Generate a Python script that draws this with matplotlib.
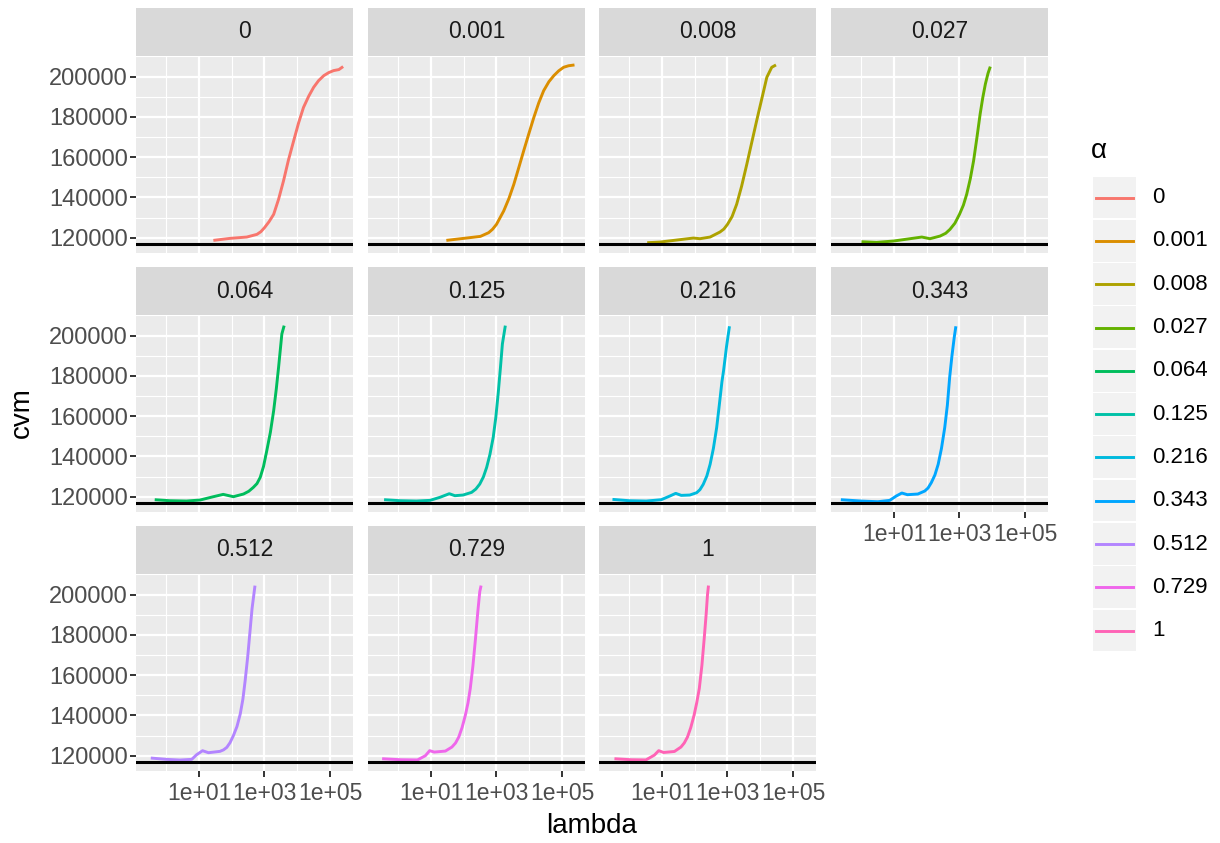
import numpy as np
import matplotlib
matplotlib.use("Agg")
import matplotlib.pyplot as plt
from matplotlib.patches import Rectangle
from matplotlib.lines import Line2D
from matplotlib.ticker import FixedLocator, NullFormatter, FixedFormatter

plt.rcParams['font.family'] = ['Liberation Sans', 'DejaVu Sans']

# facet levels (alpha) and ggplot hue colours
alphas = ["0", "0.001", "0.008", "0.027", "0.064", "0.125",
          "0.216", "0.343", "0.512", "0.729", "1"]
colors = ["#F8766D", "#DB8E00", "#AEA200", "#64B200", "#00BD5C", "#00C1A7",
          "#00BADE", "#00A6FF", "#B385FF", "#EF67EB", "#FF63B6"]

# log10(lambda) and cvm
loglam_0 = [1.44, 1.95, 2.46, 2.77, 2.89, 3.0, 3.14, 3.28, 3.43, 3.58, 3.73, 3.89,
            4.04, 4.19, 4.35, 4.5, 4.65, 4.81, 4.96, 5.11, 5.27, 5.4]
cvm_0 = [118670, 119670, 120330, 121660, 122990, 124980, 127970, 131600, 139100,
         148200, 158500, 168100, 177000, 184700, 190300, 194700, 198000, 200500,
         202000, 203000, 203500, 205000]

loglam_001 = [1.47, 2.0, 2.51, 2.76, 2.88, 3.0, 3.22, 3.38, 3.53, 3.68, 3.83, 3.99,
              4.14, 4.29, 4.44, 4.6, 4.75, 4.9, 5.05, 5.2, 5.38]
cvm_001 = [118670, 119670, 120660, 122490, 124200, 126640, 133280, 139500, 146560,
           154800, 163150, 171800, 179750, 187000, 193030, 197500, 200500, 202900,
           204650, 205400, 205800]

loglam_008 = [0.55, 0.94, 1.45, 1.96, 2.16, 2.47, 2.77, 2.89, 3.0, 3.14, 3.28, 3.43,
              3.59, 3.74, 3.89, 4.05, 4.2, 4.35, 4.48]
cvm_008 = [117510, 117840, 118840, 119830, 119500, 120330, 122820, 124300, 126640,
           130500, 136600, 145500, 156510, 167300, 178090, 189200, 199660, 204640,
           205800]

loglam_027 = [0.01, 0.47, 0.98, 1.49, 1.85, 2.10, 2.41, 2.58, 2.71, 2.86, 3.0, 3.12,
              3.22, 3.33, 3.43, 3.53, 3.63, 3.71, 3.79, 3.87, 3.94]
cvm_027 = [118010, 117680, 118340, 119500, 120330, 119500, 120830, 122200, 124150,
           127200, 131620, 136200, 141580, 149300, 158170, 169500, 181400, 189500,
           196350, 201600, 204980]

loglam_064 = [-0.35, 0.11, 0.62, 1.03, 1.44, 1.74, 2.05, 2.36, 2.52, 2.66, 2.77, 2.87,
              2.97, 3.07, 3.18, 3.28, 3.36, 3.43, 3.53, 3.6]
cvm_064 = [118510, 118010, 117850, 118340, 120000, 121160, 120000, 121330, 122700,
           124640, 126500, 129610, 135000, 142860, 152000, 162730, 173500, 184260,
           200830, 204970]

loglam_125 = [-0.43, 0.06, 0.56, 0.97, 1.27, 1.56, 1.73, 1.98, 2.24, 2.37, 2.49, 2.60,
              2.70, 2.80, 2.90, 2.98, 3.05, 3.12, 3.18, 3.27]
cvm_125 = [118510, 118010, 117850, 118180, 119670, 121490, 120500, 120830, 122150,
           123800, 126290, 129800, 134570, 141000, 149480, 159500, 171010, 184000,
           195860, 204970]

loglam_216 = [-0.51, 0.0, 0.52, 0.98, 1.24, 1.42, 1.59, 1.85, 2.06, 2.16, 2.26, 2.37,
              2.47, 2.57, 2.67, 2.75, 2.83, 2.88, 2.97, 3.06]
cvm_216 = [118670, 118010, 117840, 118510, 120330, 121660, 120660, 120830, 121990,
           123500, 126140, 130300, 136100, 144000, 154360, 165500, 177000, 182570,
           194500, 204650]

loglam_343 = [-0.62, 0.0, 0.51, 0.87, 1.07, 1.24, 1.41, 1.73, 1.94, 2.04, 2.14, 2.25,
              2.35, 2.45, 2.55, 2.63, 2.70, 2.77, 2.84, 2.89]
cvm_343 = [118510, 117840, 117510, 118170, 120330, 121830, 121000, 121330, 122820,
           124300, 126970, 130800, 136100, 144000, 154360, 165500, 179250, 190000,
           199170, 204640]

loglam_512 = [-0.47, 0.01, 0.42, 0.78, 0.93, 1.11, 1.29, 1.64, 1.75, 1.85, 1.95, 2.05,
              2.16, 2.26, 2.34, 2.41, 2.49, 2.56, 2.62, 2.71]
cvm_512 = [118840, 118180, 117850, 118180, 120500, 122480, 121490, 122150, 122900,
           124140, 126500, 129940, 134500, 140700, 148000, 157270, 169500, 182110,
           193000, 204470]

loglam_729 = [-0.49, 0.08, 0.59, 0.83, 0.96, 1.10, 1.44, 1.64, 1.75, 1.85, 1.95, 2.05,
              2.13, 2.20, 2.28, 2.36, 2.43, 2.49, 2.53]
cvm_729 = [118500, 118000, 117900, 120000, 122500, 121800, 122300, 124300, 126300,
           129300, 134000, 140100, 146200, 153400, 164500, 178300, 191500, 201500,
           204500]

loglam_1 = [-0.45, 0.06, 0.51, 0.77, 0.90, 1.05, 1.38, 1.58, 1.68, 1.78, 1.88, 1.98,
            2.06, 2.14, 2.22, 2.29, 2.35, 2.39, 2.42]
cvm_1 = [118500, 118000, 117900, 120300, 122500, 121600, 122100, 124300, 126300,
         129300, 134000, 140100, 146200, 153400, 165000, 178300, 190500, 200000,
         204500]

loglams = [loglam_0, loglam_001, loglam_008, loglam_027, loglam_064, loglam_125,
           loglam_216, loglam_343, loglam_512, loglam_729, loglam_1]
cvms = [cvm_0, cvm_001, cvm_008, cvm_027, cvm_064, cvm_125,
        cvm_216, cvm_343, cvm_512, cvm_729, cvm_1]

hline_cvm = 116850

x_breaks = [1e1, 1e3, 1e5]
x_labels = ["1e+01", "1e+03", "1e+05"]
x_minor = [1e0, 1e2, 1e4]
y_breaks = [120000, 140000, 160000, 180000, 200000]
y_labels = ["120000", "140000", "160000", "180000", "200000"]
y_minor = [130000, 150000, 170000, 190000, 210000]

# limits like ggplot (5% expansion, shared scales)
all_x = np.concatenate([np.array(v) for v in loglams])
all_y = np.concatenate([np.array(v) for v in cvms] + [np.array([hline_cvm])])
xr = all_x.max() - all_x.min()
xlim = (10 ** (all_x.min() - 0.05 * xr), 10 ** (all_x.max() + 0.05 * xr))
yr = all_y.max() - all_y.min()
ylim = (all_y.min() - 0.05 * yr, all_y.max() + 0.05 * yr)

W, H = 1220, 843
fig = plt.figure(figsize=(W / 100, H / 100), dpi=100)

def box(px, py, pw, ph):
    return [px / W, 1 - (py + ph) / H, pw / W, ph / H]

col_left = [136, 368, 599, 831]
panel_w = 217
strip_top = [8, 267, 526]
strip_h = 48
panel_h = 197

txt_col = "#4D4D4D"
xtick_fs = 16.5
ytick_fs = 17
strip_fs = 16.5
title_fs = 20
legend_fs = 16

for i, (lab, col) in enumerate(zip(alphas, colors)):
    r, c = divmod(i, 4)
    left = col_left[c]
    top = strip_top[r]
    # strip
    sax = fig.add_axes(box(left, top, panel_w, strip_h))
    sax.set_facecolor("#D9D9D9")
    sax.set_xticks([]); sax.set_yticks([])
    for s in sax.spines.values():
        s.set_visible(False)
    sax.text(0.5, 0.5, lab, ha="center", va="center", fontsize=strip_fs,
             color="#1A1A1A", transform=sax.transAxes)
    # panel
    ax = fig.add_axes(box(left, top + strip_h, panel_w, panel_h))
    ax.set_facecolor("#EBEBEB")
    for s in ax.spines.values():
        s.set_visible(False)
    ax.set_xscale("log")
    ax.set_xlim(*xlim)
    ax.set_ylim(*ylim)
    ax.xaxis.set_major_locator(FixedLocator(x_breaks))
    ax.xaxis.set_minor_locator(FixedLocator(x_minor))
    ax.xaxis.set_minor_formatter(NullFormatter())
    ax.yaxis.set_major_locator(FixedLocator(y_breaks))
    ax.yaxis.set_minor_locator(FixedLocator(y_minor))
    ax.grid(which="major", color="white", linewidth=1.6)
    ax.grid(which="minor", color="white", linewidth=0.8)
    ax.set_axisbelow(True)
    ax.tick_params(which="minor", length=0)
    ax.tick_params(which="major", length=4.5, width=1.4, color="#333333",
                   labelcolor=txt_col)
    ax.tick_params(axis="x", labelsize=xtick_fs, pad=3.2)
    ax.tick_params(axis="y", labelsize=ytick_fs, pad=1.5)

    ax.plot(10 ** np.array(loglams[i]), cvms[i], color=col, linewidth=2.1,
            solid_capstyle="butt", solid_joinstyle="round")
    ax.axhline(hline_cvm, color="black", linewidth=2.2)

    show_x = (r == 2) or (r == 1 and c == 3)
    if show_x:
        ax.xaxis.set_major_formatter(FixedFormatter(x_labels))
    else:
        ax.tick_params(axis="x", which="major", length=0, labelbottom=False)
    if c == 0:
        ax.yaxis.set_major_formatter(FixedFormatter(y_labels))
    else:
        ax.tick_params(axis="y", which="major", length=0, labelleft=False)

# axis titles
fig.text(592 / W, 1 - 826 / H, "lambda", ha="center", va="center", fontsize=title_fs,
         color="black")
fig.text(22 / W, 1 - 413 / H, "cvm", ha="center", va="center", fontsize=title_fs,
         rotation=90, color="black")

# legend
fig.text(1091 / W, 1 - 151 / H, "\u03b1", ha="left", va="center", fontsize=title_fs)
key_top = 176
key_h = 43.3
for i, (lab, col) in enumerate(zip(alphas, colors)):
    y0 = key_top + key_h * i
    fig.patches.append(Rectangle((1093 / W, 1 - (y0 + key_h - 1) / H), 43 / W,
                                 (key_h - 1.5) / H, transform=fig.transFigure,
                                 facecolor="#F2F2F2", edgecolor="none"))
    yc = 1 - (y0 + key_h / 2) / H
    fig.lines.append(Line2D([1096 / W, 1133 / W], [yc, yc], transform=fig.transFigure,
                            color=col, linewidth=2.1))
    fig.text(1152 / W, yc, lab, ha="left", va="center", fontsize=legend_fs,
             color="black")

fig.savefig("out.png", dpi=100)
